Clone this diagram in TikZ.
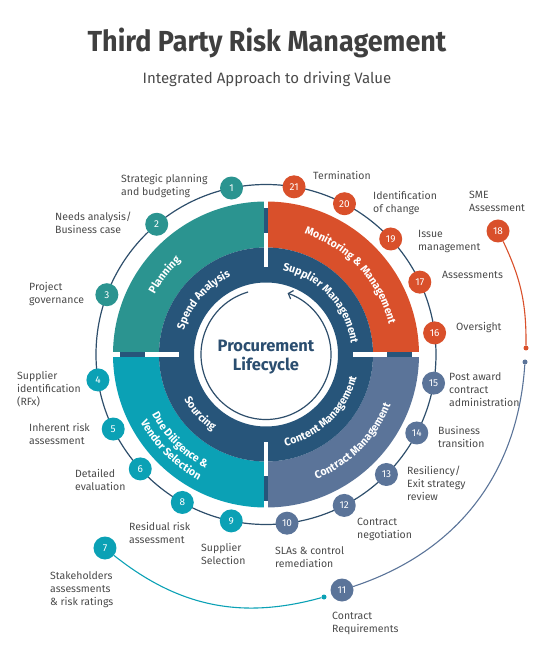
\documentclass[tikz,border=0pt]{standalone}
\usepackage{fontspec}
\setmainfont{Fira Sans}
\newfontfamily\titlefont{Fira Sans}[FakeStretch=0.93]
\newfontfamily\ringfont{Fira Sans}[FakeStretch=0.97]
\usepackage{xcolor}
\usepackage{tikz}
\usetikzlibrary{arrows.meta,decorations.text}
\definecolor{ink}{HTML}{4A4A4A}
\definecolor{titleink}{HTML}{3F3F3F}
\definecolor{navy}{HTML}{27557A}
\definecolor{rim}{HTML}{2E4E6B}
\definecolor{centre}{HTML}{2B4E70}
\definecolor{planC}{HTML}{2B9490}
\definecolor{monC}{HTML}{D9502B}
\definecolor{dueC}{HTML}{0BA1B5}
\definecolor{conC}{HTML}{5B7499}
\tikzset{
  rim/.style={line width=1.2pt, draw=rim},
  dot/.style={circle, inner sep=0pt, minimum size=23pt, text=white, font=\fontsize{10}{10}\selectfont},
  tip/.style={circle, inner sep=0pt, minimum size=5pt},
  lab/.style={text=ink, font=\fontsize{10.5}{13}\selectfont, align=left, anchor=north west, inner sep=0pt},
  lane/.style={line width=1.1pt},
  rtext/.style={decorate, decoration={text along path, text align=center, text color=white,
    text={|\ringfont\bfseries\fontsize{11}{12}\selectfont|#1}}}
}
\begin{document}
\begin{tikzpicture}[x=1pt,y=1pt]
  \useasboundingbox (-266,-305.5) rectangle (270,354.5);

  \node[anchor=base, text=titleink, font=\titlefont\bfseries\fontsize{29}{34}\selectfont] (title) at (1,302.5) {Third Party Risk Management};
  \node[anchor=base, text=ink, font=\fontsize{15}{18}\selectfont] (subtitle) at (1,270.5) {Integrated Approach to driving Value};

  % outer phases
  \fill[planC] (90:107) arc[start angle=90, end angle=180, radius=107] -- (180:153) arc[start angle=180, end angle=90, radius=153] -- cycle;
  \fill[dueC] (180:107) arc[start angle=180, end angle=270, radius=107] -- (270:153) arc[start angle=270, end angle=180, radius=153] -- cycle;
  \fill[conC] (270:107) arc[start angle=270, end angle=360, radius=107] -- (0:153) arc[start angle=360, end angle=270, radius=153] -- cycle;
  \fill[monC] (0:107) arc[start angle=0, end angle=90, radius=107] -- (90:153) arc[start angle=90, end angle=0, radius=153] -- cycle;
  \fill[navy, even odd rule] (0,0) circle[radius=107] (0,0) circle[radius=72];

  % gaps
  \fill[white] (-2.3,87) rectangle (2.3,154);
  \fill[white] (-2.3,-87) rectangle (2.3,-154);
  \fill[white] (87,-2.3) rectangle (154,2.3);
  \fill[white] (-87,-2.3) rectangle (-154,2.3);
  \fill[navy] (-2.3,121) rectangle (2.3,146);
  \fill[navy] (-2.3,-121) rectangle (2.3,-146);
  \fill[navy] (121,-2.3) rectangle (146,2.3);
  \fill[navy] (-121,-2.3) rectangle (-146,2.3);

  % ring texts
  \path[rtext={Planning}] (172:126.5) arc[start angle=172, end angle=112, radius=126.5];
  \path[rtext={Spend Analysis}] (189:85.5) arc[start angle=189, end angle=89, radius=85.5];
  \path[rtext={Monitoring {\&} Management}] (93:126.5) arc[start angle=93, end angle=-7, radius=126.5];
  \path[rtext={Supplier Management}] (103:85.5) arc[start angle=103, end angle=-17, radius=85.5];
  \path[rtext={Sourcing}] (182:93.5) arc[start angle=182, end angle=262, radius=93.5];
  \path[rtext={Due Diligence {\&}}] (185:129) arc[start angle=185, end angle=265, radius=129];
  \path[rtext={Vendor Selection}] (185:142.5) arc[start angle=185, end angle=265, radius=142.5];
  \path[rtext={Content Management}] (259:93.5) arc[start angle=259, end angle=369, radius=93.5];
  \path[rtext={Contract Management}] (265:134.5) arc[start angle=265, end angle=365, radius=134.5];

  \node[align=center, text=centre, font=\fontsize{16.5}{19}\selectfont\bfseries] (core) at (0,-3) {Procurement\\Lifecycle};
  \draw[rim, -{Straight Barb[length=4pt,width=9pt]}] (106:65) arc[start angle=106, end angle=430.6, radius=65];

  \draw[rim] (0,0) circle[radius=170];

  % outer branches
  \node[tip, fill=monC] (e18) at (260,6.5) {};
  \node[tip, fill=conC] (e11) at (259,-7.5) {};
  \node[tip, fill=dueC] (e7) at (58,-242.5) {};
  \node[dot, fill=monC] (d18) at (232,123.5) {18};
  \node[dot, fill=conC] (d11) at (76,-235.5) {11};
  \node[dot, fill=dueC] (d7) at (-161,-193.5) {7};
  \draw[lane, monC] (d18) to[bend left=13] (e18);
  \draw[lane, conC] (d11) to[bend right=34] (e11);
  \draw[lane, dueC] (d7) to[bend right=27] (e7);

  % steps
  \node[dot, fill=planC] (d1) at (101.7:170) {1};
  \node[dot, fill=planC] (d2) at (130:170) {2};
  \node[dot, fill=planC] (d3) at (159.4:170) {3};
  \node[dot, fill=dueC] (d4) at (188.6:170) {4};
  \node[dot, fill=dueC] (d5) at (206:170) {5};
  \node[dot, fill=dueC] (d6) at (222.3:170) {6};
  \node[dot, fill=dueC] (d8) at (240.5:170) {8};
  \node[dot, fill=dueC] (d9) at (258.2:170) {9};
  \node[dot, fill=conC] (d10) at (277.1:170) {10};
  \node[dot, fill=conC] (d12) at (297.4:170) {12};
  \node[dot, fill=conC] (d13) at (315.1:170) {13};
  \node[dot, fill=conC] (d14) at (332.5:170) {14};
  \node[dot, fill=conC] (d15) at (350.3:170) {15};
  \node[dot, fill=monC] (d16) at (7.3:170) {16};
  \node[dot, fill=monC] (d17) at (25.2:170) {17};
  \node[dot, fill=monC] (d19) at (42.8:170) {19};
  \node[dot, fill=monC] (d20) at (62.5:170) {20};
  \node[dot, fill=monC] (d21) at (80.5:170) {21};

  \node[lab] (l1) at (-145,180.2) {Strategic planning\\and budgeting};
  \node[lab] (l2) at (-211,142.2) {Needs analysis/\\Business case};
  \node[lab] (l3) at (-237,72.2) {Project\\governance};
  \node[lab] (l4) at (-249,-16.8) {Supplier\\identification\\(RFx)};
  \node[lab] (l5) at (-237,-68.8) {Inherent risk\\assessment};
  \node[lab] (l6) at (-191,-114.8) {Detailed\\evaluation};
  \node[lab] (l7) at (-216,-216.8) {Stakeholders\\assessments\\\& risk ratings};
  \node[lab] (l8) at (-137,-167.8) {Residual risk\\assessment};
  \node[lab] (l9) at (-65,-188.8) {Supplier\\Selection};
  \node[lab] (l10) at (9,-191.8) {SLAs \& control\\remediation};
  \node[lab] (l11) at (66,-257.8) {Contract\\Requirements};
  \node[lab] (l12) at (91,-163.8) {Contract\\negotiation};
  \node[lab] (l13) at (141,-111.8) {Resiliency/\\Exit strategy\\review};
  \node[lab] (l14) at (172,-71.8) {Business\\transition};
  \node[lab] (l15) at (183,-17.8) {Post award\\contract\\administration};
  \node[lab] (l16) at (190,32.2) {Oversight};
  \node[lab] (l17) at (176,83.2) {Assessments};
  \node[lab] (l18) at (203,163.2) {SME\\Assessment};
  \node[lab] (l19) at (152,124.2) {Issue\\management};
  \node[lab] (l20) at (107,163.2) {Identification\\of change};
  \node[lab] (l21) at (47,183.2) {Termination};
\end{tikzpicture}
\end{document}
